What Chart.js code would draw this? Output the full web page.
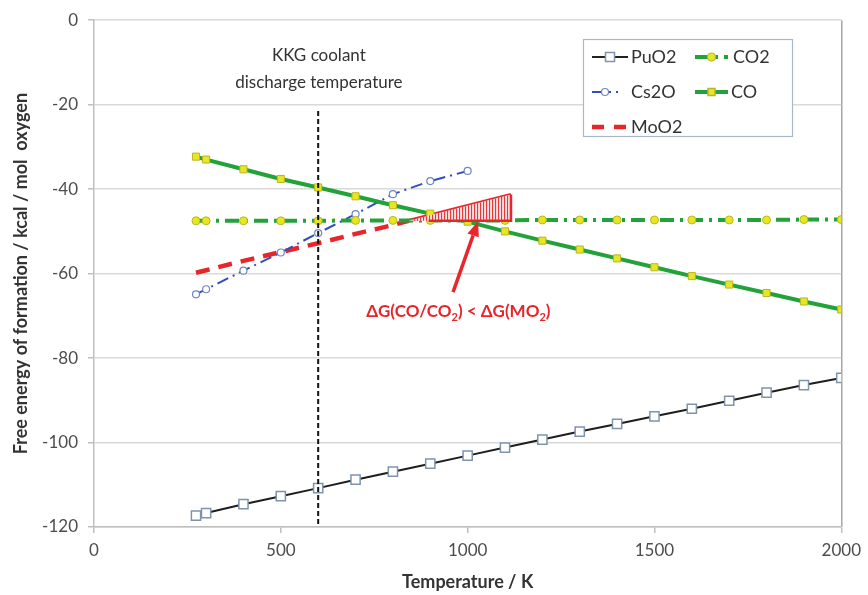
<!DOCTYPE html>
<html><head><meta charset="utf-8">
<script src="https://cdn.jsdelivr.net/npm/chart.js@4.4.1/dist/chart.umd.min.js"></script>
<style>html,body{margin:0;padding:0;background:#fff}#wrap{width:868px;height:595px}</style>
</head><body><div id="wrap"><canvas id="c" width="868" height="595"></canvas></div>
<script>
const temps = [273,300,400,500,600,700,800,900,1000,1100,1200,1300,1400,1500,1600,1700,1800,1900,2000];
const puo2 = [-117.3,-116.7,-114.6,-112.7,-110.8,-108.8,-106.9,-105.0,-103.1,-101.2,-99.3,-97.4,-95.6,-93.8,-92.0,-90.1,-88.2,-86.4,-84.7];
const co   = [-32.3,-33.0,-35.3,-37.6,-39.6,-41.7,-43.8,-45.8,-47.7,-50.0,-52.2,-54.3,-56.4,-58.5,-60.6,-62.6,-64.6,-66.6,-68.5];
const co2  = [-47.5,-47.5,-47.5,-47.5,-47.5,-47.4,-47.4,-47.4,-47.4,-47.4,-47.3,-47.3,-47.3,-47.3,-47.3,-47.3,-47.3,-47.2,-47.2];
const cs2oT = [273,300,400,500,600,700,800,900,1000];
const cs2o  = [-64.9,-63.7,-59.3,-55.0,-50.4,-45.9,-41.2,-38.1,-35.7];
const moo2T = [273,300,400,500,600,700,800,842,1116];
const moo2  = [-59.8,-59.2,-57.0,-54.9,-52.8,-50.6,-48.5,-47.5,-41.3];
const hatchX = [842,1116];
const hatchTop = [-47.5,-41.3];
const hatchBase = -47.5;
const coolantT = [600,600];
const coolantY = [-21.5,-120];
const xTicks = [0,500,1000,1500,2000];
const yTicks = [0,-20,-40,-60,-80,-100,-120];

const FONT = 'Lato, "Liberation Sans", sans-serif';
const GREEN = '#23a23a', YEL = '#e8e620', YELB = '#b9b52a', RED = '#e8252a', BLUE = '#2f4fbf';
const pts = (xs, ys) => xs.map((x,i)=>({x, y: ys[i]}));

const overlay = {
  id: 'overlay',
  afterDatasetsDraw(chart) {
    const {ctx, scales:{x, y}} = chart;
    ctx.save();
    // hatched triangle
    const x0 = x.getPixelForValue(hatchX[0]), x1 = x.getPixelForValue(hatchX[1]);
    const yb = y.getPixelForValue(hatchBase);
    const yt0 = y.getPixelForValue(hatchTop[0]), yt1 = y.getPixelForValue(hatchTop[1]);
    ctx.beginPath(); ctx.moveTo(x0, yt0); ctx.lineTo(x1, yt1); ctx.lineTo(x1, yb); ctx.lineTo(x0, yb); ctx.closePath();
    ctx.fillStyle = '#fbe3e3'; ctx.fill();
    ctx.strokeStyle = RED; ctx.lineWidth = 1;
    for (let px = x0 + 6; px < x1; px += 3) {
      const t = (px - x0) / (x1 - x0);
      const ty = yt0 + t * (yt1 - yt0);
      ctx.beginPath(); ctx.moveTo(px, yb); ctx.lineTo(px, ty); ctx.stroke();
    }
    ctx.lineWidth = 2.5;
    ctx.beginPath(); ctx.moveTo(x1, yt1); ctx.lineTo(x1, yb); ctx.lineTo(x0 + 20, yb); ctx.stroke();

    // arrow
    const ax0 = x.getPixelForValue(961), ay0 = y.getPixelForValue(-64.4);
    const ax1 = x.getPixelForValue(1028), ay1 = y.getPixelForValue(-47.6);
    const ang = Math.atan2(ay1 - ay0, ax1 - ax0);
    const hl = 15, hw = 6;
    const bx = ax1 - hl*Math.cos(ang), by = ay1 - hl*Math.sin(ang);
    ctx.strokeStyle = RED; ctx.lineWidth = 3.5;
    ctx.beginPath(); ctx.moveTo(ax0, ay0); ctx.lineTo(bx, by); ctx.stroke();
    ctx.fillStyle = RED;
    ctx.beginPath(); ctx.moveTo(ax1, ay1);
    ctx.lineTo(bx + hw*Math.sin(ang), by - hw*Math.cos(ang));
    ctx.lineTo(bx - hw*Math.sin(ang), by + hw*Math.cos(ang));
    ctx.closePath(); ctx.fill();

    // annotation text with subscripts
    const runs = [['\u0394G(CO/CO',0],['2',1],[') < \u0394G(MO',0],['2',1],[')',0]];
    const big = 'bold 17px ' + FONT, small = 'bold 11px ' + FONT;
    let w = 0;
    runs.forEach(([t,s]) => { ctx.font = s ? small : big; w += ctx.measureText(t).width; });
    let tx = x.getPixelForValue(975) - w/2;
    const ty = y.getPixelForValue(-69.0);
    ctx.textBaseline = 'middle'; ctx.textAlign = 'left'; ctx.fillStyle = RED;
    runs.forEach(([t,s]) => { ctx.font = s ? small : big; ctx.fillText(t, tx, s ? ty + 6 : ty); tx += ctx.measureText(t).width; });

    // KKG label
    ctx.font = '17px ' + FONT; ctx.fillStyle = '#333'; ctx.textAlign = 'center';
    const kx = x.getPixelForValue(602);
    ctx.fillText('KKG coolant', kx, y.getPixelForValue(-8.4));
    ctx.fillText('discharge temperature', kx, y.getPixelForValue(-14.7));

    // legend
    const lx = 583, ly = 39, lw = 209, lh = 97;
    ctx.fillStyle = '#fff'; ctx.fillRect(lx, ly, lw, lh);
    ctx.strokeStyle = '#a9b8c8'; ctx.lineWidth = 1.2; ctx.strokeRect(lx+0.5, ly+0.5, lw, lh);
    const rows = [57, 92, 127];
    ctx.font = '18px ' + FONT; ctx.textAlign = 'left'; ctx.fillStyle = '#333';
    function sample(x0, x1, yy, color, width, dash, marker) {
      ctx.save(); ctx.strokeStyle = color; ctx.lineWidth = width; ctx.setLineDash(dash);
      ctx.beginPath(); ctx.moveTo(x0, yy); ctx.lineTo(x1, yy); ctx.stroke(); ctx.restore();
      if (marker) marker((x0+x1)/2, yy);
    }
    const sq = (fill, stroke, s) => (cx, cy) => { ctx.fillStyle = fill; ctx.strokeStyle = stroke; ctx.lineWidth = 1.5; ctx.fillRect(cx-s/2, cy-s/2, s, s); ctx.strokeRect(cx-s/2, cy-s/2, s, s); };
    const circ = (fill, stroke, r) => (cx, cy) => { ctx.fillStyle = fill; ctx.strokeStyle = stroke; ctx.lineWidth = 1.2; ctx.beginPath(); ctx.arc(cx, cy, r, 0, Math.PI*2); ctx.fill(); ctx.stroke(); };
    sample(592, 628, rows[0], '#222', 2, [], sq('#fff', '#7f93ad', 9));
    sample(695, 728, rows[0], GREEN, 4, [14,6,3,6], circ(YEL, YELB, 4));
    sample(592, 618, rows[1], BLUE, 2, [12,5,2,5], circ('#fff', '#7286c6', 3.5));
    sample(695, 728, rows[1], GREEN, 4, [], sq(YEL, YELB, 7));
    sample(592, 628, rows[2], RED, 4.5, [12,10], null);
    ctx.fillStyle = '#333'; ctx.font = '18px ' + FONT; ctx.textBaseline = 'middle';
    ctx.fillText('PuO2', 631, rows[0]);
    ctx.fillText('CO2', 733, rows[0]);
    ctx.fillText('Cs2O', 631, rows[1]);
    ctx.fillText('CO', 731, rows[1]);
    ctx.fillText('MoO2', 631, rows[2]);
    ctx.restore();
  }
};

new Chart(document.getElementById('c'), {
  type: 'scatter',
  data: {
    datasets: [
      { label: 'coolant', data: pts(coolantT, coolantY), showLine: true, borderColor: '#111', borderWidth: 2, borderDash: [5,3], pointRadius: 0 },
      { label: 'PuO2', data: pts(temps, puo2), showLine: true, borderColor: '#1e1e1e', borderWidth: 2, pointStyle: 'rect', pointRadius: 6.5, pointBackgroundColor: '#fff', pointBorderColor: '#7f93ad', pointBorderWidth: 1.5 },
      { label: 'CO', data: pts(temps, co), showLine: true, borderColor: GREEN, borderWidth: 4, pointStyle: 'rect', pointRadius: 5, pointBackgroundColor: YEL, pointBorderColor: YELB, pointBorderWidth: 1 },
      { label: 'CO2', data: pts(temps, co2), showLine: true, borderColor: GREEN, borderWidth: 4, borderDash: [14,6,3,6], pointStyle: 'circle', pointRadius: 4, pointBackgroundColor: YEL, pointBorderColor: YELB, pointBorderWidth: 1 },
      { label: 'Cs2O', data: pts(cs2oT, cs2o), showLine: true, borderColor: BLUE, borderWidth: 2, borderDash: [12,5,2,5], pointStyle: 'circle', pointRadius: 3.5, pointBackgroundColor: '#fff', pointBorderColor: '#7286c6', pointBorderWidth: 1.2 },
      { label: 'MoO2', data: pts(moo2T, moo2), showLine: true, borderColor: RED, borderWidth: 4.5, pointRadius: 0,
        segment: { borderDash: c => c.p0.parsed.x >= 842 ? [] : [14,9], borderWidth: c => c.p0.parsed.x >= 842 ? 3.5 : 4.5 } }
    ]
  },
  options: {
    responsive: false, animation: false, events: [],
    layout: { padding: { left: 0, top: 20, right: 23, bottom: 0 } },
    plugins: { legend: { display: false }, tooltip: { enabled: false } },
    scales: {
      x: {
        type: 'linear', min: 0, max: 2000,
        afterBuildTicks: s => { s.ticks = xTicks.map(v => ({value: v})); },
        afterFit: s => { s.height = 68; },
        border: { color: '#bfbfbf', width: 1.5 },
        grid: { drawOnChartArea: true, color: c => c.tick && c.tick.value === 2000 ? '#a6a6a6' : 'rgba(0,0,0,0)', lineWidth: 1.5, tickLength: 6, tickColor: '#bfbfbf' },
        ticks: { color: '#4d4d4d', font: { family: FONT, size: 17 }, padding: 7, maxRotation: 0, callback: v => String(v) },
        title: { display: true, text: 'Temperature / K', color: '#333', font: { family: FONT, size: 18, weight: 'bold' }, padding: { top: 0, bottom: 2 } }
      },
      y: {
        type: 'linear', min: -120, max: 0,
        afterBuildTicks: s => { s.ticks = yTicks.map(v => ({value: v})); },
        afterFit: s => { s.width = 94; },
        border: { color: '#bfbfbf', width: 1.5 },
        grid: { color: '#d9d9d9', lineWidth: 1.5, tickLength: 6, tickColor: '#bfbfbf' },
        ticks: { color: '#4d4d4d', font: { family: FONT, size: 17 }, padding: 10, callback: v => String(v) },
        title: { display: true, text: 'Free energy of formation / kcal / mol  oxygen', color: '#333', font: { family: FONT, size: 18, weight: 'bold' }, padding: { top: 10, bottom: 0 } }
      }
    }
  },
  plugins: [overlay]
});
</script>
</body></html>
